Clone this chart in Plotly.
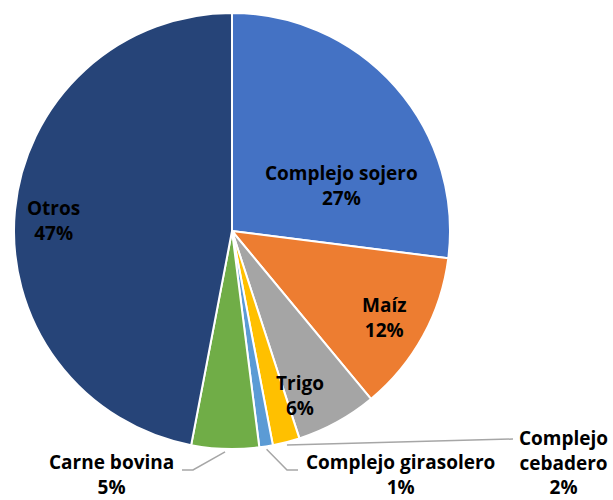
import math
import plotly.graph_objects as go

labels = ["Complejo sojero", "Maíz", "Trigo", "Complejo cebadero",
          "Complejo girasolero", "Carne bovina", "Otros"]
values = [27, 12, 6, 2, 1, 5, 47]
colors = ["#4472C4", "#ED7D31", "#A5A5A5", "#FFC000", "#5B9BD5", "#70AD47", "#264478"]

W, H = 613, 500
CX, CY, R = 232, 231, 218

# label block centres (pixels) and line breaks
label_pos = {
    "Complejo sojero": (341, 185),
    "Maíz": (384, 317),
    "Trigo": (300, 395),
    "Otros": (53, 221),
    "Carne bovina": (111, 474),
    "Complejo girasolero": (400, 474),
    "Complejo cebadero": (563, 462),
}
label_text = {"Complejo cebadero": "Complejo<br>cebadero"}
# leader elbow/end points (pixels)
leaders = {
    "Carne bovina": [(193, 470), (182, 470)],
    "Complejo girasolero": [(287, 470), (298, 470)],
    "Complejo cebadero": [(513, 439)],
}

def px(x, y):
    return x / W, 1 - y / H

fig = go.Figure(go.Pie(
    labels=labels, values=values, sort=False, direction="clockwise", rotation=0,
    marker=dict(colors=colors, line=dict(color="white", width=2)),
    textinfo="none", hoverinfo="label+percent",
    domain=dict(x=[(CX - R) / W, (CX + R) / W], y=[1 - (CY + R) / H, 1 - (CY - R) / H]),
    showlegend=False,
))

font = dict(family="Open Sans", size=19, color="#000000")
annotations = []
total = sum(values)
for lab, v in zip(labels, values):
    pct = f"{round(100 * v / total)}%"
    name = label_text.get(lab, lab)
    x, y = label_pos[lab]
    xx, yy = px(x, y)
    annotations.append(dict(x=xx, y=yy, xref="paper", yref="paper",
                            text=f"<b>{name}<br>{pct}</b>", align="center",
                            showarrow=False, font=font, xanchor="center", yanchor="middle",
                            borderpad=0))

shapes = []
cum = 0
for lab, v in zip(labels, values):
    mid = (cum + v / 2) / total * 2 * math.pi
    cum += v
    if lab in leaders:
        r = R + 3
        sx, sy = CX + r * math.sin(mid), CY - r * math.cos(mid)
        pts = [(sx, sy)] + leaders[lab]
        path = "M " + " L ".join(f"{px(x, y)[0]},{px(x, y)[1]}" for x, y in pts)
        shapes.append(dict(type="path", path=path, xref="paper", yref="paper",
                           line=dict(color="#A6A6A6", width=1.5)))

fig.update_layout(width=W, height=H, margin=dict(l=0, r=0, t=0, b=0),
                  paper_bgcolor="white", plot_bgcolor="white",
                  annotations=annotations, shapes=shapes)
fig.write_html("out.html", config={"displayModeBar": False},
               post_script="document.body.style.margin='0';document.body.style.overflow='hidden';")
